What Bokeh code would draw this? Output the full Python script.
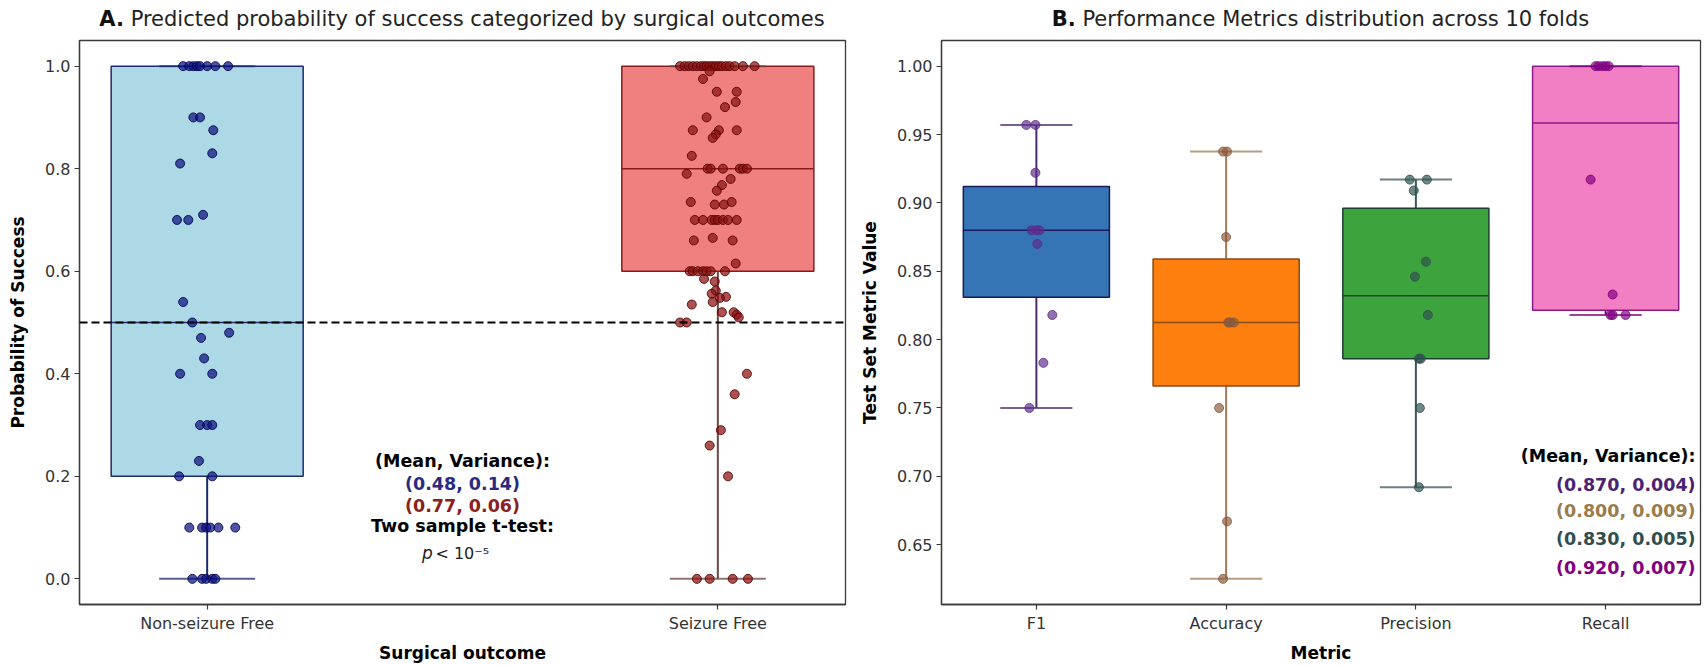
from bokeh.plotting import figure
from bokeh.layouts import row, column
from bokeh.models import Range1d, FixedTicker, PrintfTickFormatter, Span, ColumnDataSource, Div
from bokeh.core.properties import value
from bokeh.embed import file_html
from bokeh.resources import INLINE

FONT = "DejaVu Sans"

# ---------------- Panel A data ----------------
outcomes = ["Non-seizure Free", "Seizure Free"]

nsf_values = [1.0, 1.0, 1.0, 1.0, 1.0, 1.0, 1.0, 1.0,
              0.90, 0.90, 0.875, 0.83, 0.81, 0.70, 0.70, 0.71, 0.54, 0.50, 0.48, 0.47,
              0.43, 0.40, 0.40, 0.30, 0.30, 0.30, 0.23, 0.20, 0.20,
              0.10, 0.10, 0.10, 0.10, 0.10, 0.10, 0.0, 0.0, 0.0, 0.0, 0.0]
nsf_jitter = [-0.047, -0.035, -0.027, -0.020, -0.014, 0.0, 0.016, 0.041,
              -0.027, -0.014, 0.012, 0.010, -0.053, -0.059, -0.037, -0.008, -0.047, -0.029, 0.043, -0.012,
              -0.006, -0.053, 0.010, -0.014, 0.0, 0.010, -0.016, -0.055, 0.010,
              -0.035, -0.010, -0.002, 0.006, 0.022, 0.055, -0.029, -0.010, -0.002, 0.010, 0.016]

sf_values = [1.0, 1.0, 1.0, 1.0, 1.0, 1.0, 1.0, 1.0, 1.0, 1.0, 1.0, 1.0, 1.0, 1.0, 1.0, 1.0, 1.0, 1.0,
             0.99, 0.975, 0.95, 0.95, 0.93, 0.92, 0.90, 0.875, 0.875, 0.875, 0.867, 0.86, 0.825,
             0.80, 0.80, 0.80, 0.80, 0.80, 0.80, 0.79, 0.78, 0.768, 0.757, 0.735, 0.73, 0.73, 0.735,
             0.70, 0.70, 0.70, 0.70, 0.70, 0.70, 0.70, 0.70, 0.66, 0.66, 0.665, 0.615,
             0.60, 0.60, 0.60, 0.60, 0.60, 0.60, 0.60, 0.585, 0.58, 0.562, 0.556, 0.55, 0.548,
             0.54, 0.535, 0.52, 0.52, 0.515, 0.51, 0.50, 0.50,
             0.40, 0.36, 0.29, 0.26, 0.20, 0.0, 0.0, 0.0, 0.0]
sf_jitter = [-0.074, -0.065, -0.057, -0.049, -0.041, -0.033, -0.027, -0.022, -0.016, -0.010, -0.004, 0.002,
             0.008, 0.016, 0.023, 0.033, 0.049, 0.072,
             -0.016, -0.029, -0.002, 0.037, 0.035, 0.014, -0.022, -0.049, 0.037, 0.002, -0.004, -0.010, -0.051,
             -0.020, -0.014, 0.010, 0.043, 0.049, 0.057, -0.061, 0.025, 0.008, -0.002, -0.053, -0.006, 0.012, 0.027,
             -0.045, -0.029, -0.012, -0.006, 0.0, 0.010, 0.020, 0.037, -0.047, 0.029, -0.010, 0.035,
             -0.055, -0.049, -0.039, -0.029, -0.022, -0.014, 0.014, -0.027, -0.006, -0.004, -0.012, 0.016, 0.004,
             -0.010, -0.051, 0.008, 0.031, 0.037, 0.041, -0.074, -0.061,
             0.057, 0.033, 0.006, -0.016, 0.020, -0.041, -0.016, 0.029, 0.059]

outcome_q1 = [0.2, 0.6]
outcome_median = [0.5, 0.8]
outcome_q3 = [1.0, 1.0]
outcome_low = [0.0, 0.0]
outcome_high = [1.0, 1.0]
outcome_stats = ["(0.48, 0.14)", "(0.77, 0.06)"]
threshold = 0.5

# ---------------- Panel B data ----------------
metrics = ["F1", "Accuracy", "Precision", "Recall"]
f1_values = [0.957, 0.957, 0.922, 0.88, 0.88, 0.88, 0.87, 0.818, 0.783, 0.75]
f1_jitter = [-0.053, -0.005, -0.005, -0.026, 0.0, 0.016, 0.005, 0.084, 0.037, -0.037]
accuracy_values = [0.9375, 0.9375, 0.875, 0.8125, 0.8125, 0.8125, 0.8125, 0.75, 0.667, 0.625]
accuracy_jitter = [-0.016, 0.005, 0.0, 0.011, 0.026, 0.042, 0.016, -0.037, 0.005, -0.016]
precision_values = [0.917, 0.917, 0.909, 0.857, 0.846, 0.818, 0.786, 0.786, 0.75, 0.692]
precision_jitter = [-0.032, 0.058, -0.011, 0.053, -0.005, 0.063, 0.016, 0.026, 0.021, 0.016]
recall_values = [1.0, 1.0, 1.0, 1.0, 1.0, 0.917, 0.833, 0.818, 0.818, 0.818]
recall_jitter = [-0.053, -0.037, -0.016, 0.0, 0.016, -0.079, 0.037, 0.026, 0.037, 0.105]

metric_q1 = [0.831, 0.766, 0.786, 0.8215]
metric_median = [0.880, 0.8125, 0.832, 0.9585]
metric_q3 = [0.912, 0.859, 0.896, 1.0]
metric_low = [0.75, 0.625, 0.692, 0.818]
metric_high = [0.957, 0.9375, 0.917, 1.0]
metric_stats = ["(0.870, 0.004)", "(0.800, 0.009)", "(0.830, 0.005)", "(0.920, 0.007)"]

# ---------------- styles ----------------
A_fill = ["#add8e6", "#f08080"]
A_edge = ["#1c2a6e", "#8b1a1a"]
A_whisk = ["#1c2a6e", "#6e4646"]
A_pt_fill = ["#0c1480", "#8b1010"]
A_pt_line = ["#000050", "#550000"]
A_stat_col = ["#2a2a80", "#8b2020"]

B_fill = ["#3575b5", "#ff7f0e", "#3da43d", "#f27ec3"]
B_edge = ["#1a1a5a", "#8a4a14", "#1f3f2f", "#8b1a8b"]
B_whisk = ["#4b2a70", "#a07a5a", "#3b5656", "#800080"]
B_pt = ["#5b2c8a", "#8b5a3c", "#2f4f4f", "#800080"]
B_stat_col = ["#4a2472", "#9a7b4a", "#2f4f4f", "#800080"]

TITLE_H = 38
H = 665 - TITLE_H
WA, WB = 850, 854
ANN_SIZE = "17.5px"


def style(p):
    p.title.visible = False
    p.outline_line_color = "#3a3a3a"
    p.outline_line_width = 1.3
    p.xgrid.visible = False
    p.ygrid.visible = False
    p.background_fill_color = "white"
    p.border_fill_color = "white"
    for ax in p.axis:
        ax.axis_line_color = "#3a3a3a"
        ax.axis_line_width = 1.3
        ax.major_tick_line_color = "#3a3a3a"
        ax.major_tick_line_width = 1.2
        ax.major_tick_out = 5
        ax.major_tick_in = 0
        ax.minor_tick_line_color = None
        ax.major_label_text_font = FONT
        ax.major_label_text_font_size = "16px"
        ax.major_label_text_color = "#333333"
        ax.major_label_standoff = 4
        ax.axis_label_text_font = FONT
        ax.axis_label_text_font_style = "bold"
        ax.axis_label_text_font_size = "17px"
        ax.axis_label_text_color = "black"
    p.xaxis.axis_label_standoff = 7
    p.yaxis.axis_label_standoff = 14


def draw_box(p, x, q1, med, q3, lo, hi, width, capw, fill, edge, whisk, lw=1.5):
    p.segment(x0=[x, x], y0=[lo, q3], x1=[x, x], y1=[q1, hi], line_color=whisk, line_width=2)
    p.vbar(x=[x], width=width, top=[q3], bottom=[q1], fill_color=fill, line_color=edge, line_width=lw)
    p.segment(x0=[x - width / 2], y0=[med], x1=[x + width / 2], y1=[med], line_color=edge, line_width=lw)
    p.segment(x0=[x - capw / 2, x - capw / 2], y0=[lo, hi], x1=[x + capw / 2, x + capw / 2], y1=[lo, hi],
              line_color=whisk, line_width=2, line_alpha=0.75)


def title_div(bold, rest, width, left, right):
    html = ('<div style="box-sizing:border-box; width:%dpx; padding-left:%dpx; padding-right:%dpx; '
            'text-align:center; white-space:nowrap; font-family:\'DejaVu Sans\'; font-size:21px; '
            'line-height:%dpx; color:#222222;"><b style="color:#111111;">%s</b> %s</div>'
            % (width, left, right, TITLE_H, bold, rest))
    return Div(text=html, width=width, height=TITLE_H, margin=0)


# ---------------- Panel A ----------------
pA = figure(width=WA, height=H, output_backend="svg", toolbar_location=None,
            x_range=Range1d(-0.25, 1.25), y_range=Range1d(-0.05, 1.05),
            min_border_left=79, min_border_right=5, min_border_top=2, min_border_bottom=56)
style(pA)
pA.xaxis.axis_label = "Surgical outcome"
pA.yaxis.axis_label = "Probability of Success"
pA.xaxis.ticker = FixedTicker(ticks=list(range(len(outcomes))))
pA.xaxis.major_label_overrides = {i: c for i, c in enumerate(outcomes)}
pA.yaxis.ticker = FixedTicker(ticks=[0.0, 0.2, 0.4, 0.6, 0.8, 1.0])
pA.yaxis.formatter = PrintfTickFormatter(format="%.1f")

for i in range(len(outcomes)):
    draw_box(pA, i, outcome_q1[i], outcome_median[i], outcome_q3[i], outcome_low[i], outcome_high[i],
             0.376, 0.188, A_fill[i], A_edge[i], A_whisk[i])

pA.add_layout(Span(location=threshold, dimension="width", line_color="black", line_width=2, line_dash="8 4"))

for i, (vals, jit) in enumerate([(nsf_values, nsf_jitter), (sf_values, sf_jitter)]):
    pA.scatter(x=[i + j for j in jit], y=vals, size=9, fill_color=A_pt_fill[i], fill_alpha=0.72,
               line_color=A_pt_line[i], line_alpha=0.85, line_width=1)

ann_A = ColumnDataSource(dict(
    x=[0.5, 0.5, 0.5, 0.5],
    y=[0.230, 0.185, 0.142, 0.103],
    t=["(Mean, Variance):", outcome_stats[0], outcome_stats[1], "Two sample t-test:"],
    c=["black", A_stat_col[0], A_stat_col[1], "black"]))
pA.text(x="x", y="y", text="t", text_color="c", source=ann_A, text_font=value(FONT),
        text_font_style="bold", text_font_size=ANN_SIZE, text_align="center", text_baseline="middle")
pA.text(x=[0.442], y=[0.050], text=["p"], text_font=value(FONT), text_font_style="italic",
        text_font_size="17px", text_align="right", text_baseline="middle", text_color="#222222")
pA.text(x=[0.447], y=[0.050], text=["< 10⁻⁵"], text_font=value(FONT),
        text_font_size="16px", text_align="left", text_baseline="middle", text_color="#222222")

# ---------------- Panel B ----------------
pB = figure(width=WB, height=H, output_backend="svg", toolbar_location=None,
            x_range=Range1d(-0.5, 3.5), y_range=Range1d(0.60625, 1.01875),
            min_border_left=91, min_border_right=4, min_border_top=2, min_border_bottom=56)
style(pB)
pB.xaxis.axis_label = "Metric"
pB.yaxis.axis_label = "Test Set Metric Value"
pB.xaxis.ticker = FixedTicker(ticks=list(range(len(metrics))))
pB.xaxis.major_label_overrides = {i: m for i, m in enumerate(metrics)}
pB.yaxis.ticker = FixedTicker(ticks=[0.65, 0.70, 0.75, 0.80, 0.85, 0.90, 0.95, 1.00])
pB.yaxis.formatter = PrintfTickFormatter(format="%.2f")

for i in range(len(metrics)):
    draw_box(pB, i, metric_q1[i], metric_median[i], metric_q3[i], metric_low[i], metric_high[i],
             0.77, 0.38, B_fill[i], B_edge[i], B_whisk[i])

for i, (vals, jit) in enumerate([(f1_values, f1_jitter), (accuracy_values, accuracy_jitter),
                                 (precision_values, precision_jitter), (recall_values, recall_jitter)]):
    pB.scatter(x=[i + j for j in jit], y=vals, size=9, fill_color=B_pt[i], fill_alpha=0.68,
               line_color=B_pt[i], line_alpha=0.8, line_width=1)

ann_B = ColumnDataSource(dict(
    x=[3.474] * 5,
    y=[0.715, 0.694, 0.675, 0.654, 0.633],
    t=["(Mean, Variance):"] + metric_stats,
    c=["black"] + B_stat_col))
pB.text(x="x", y="y", text="t", text_color="c", source=ann_B, text_font=value(FONT),
        text_font_style="bold", text_font_size=ANN_SIZE, text_align="right", text_baseline="middle")

divA = title_div("A.", "Predicted probability of success categorized by surgical outcomes", WA, 79, 5)
divB = title_div("B.", "Performance Metrics distribution across 10 folds", WB, 91, 4)

layout = column(row(divA, divB), row(pA, pB))
open("out.html", "w").write(file_html(layout, INLINE))
